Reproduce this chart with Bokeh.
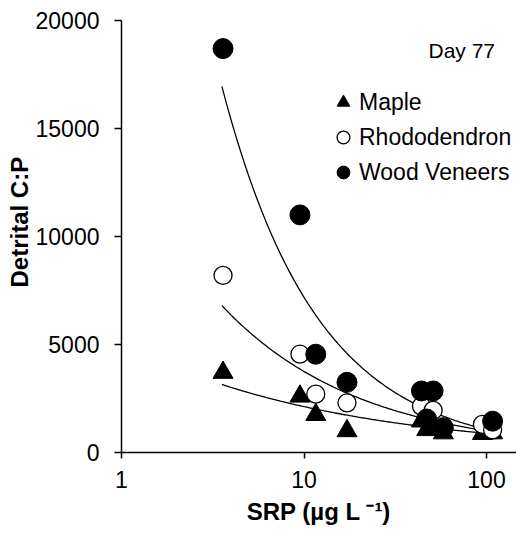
import numpy as np
from bokeh.plotting import figure
from bokeh.models import Label, Legend, LegendItem, FixedTicker, BasicTickFormatter, PrintfTickFormatter, Title
from bokeh.embed import file_html
from bokeh.resources import INLINE

# ---- data ----
maple_srp = [3.6, 9.5, 11.6, 17.2, 44, 47, 58, 95, 108]
maple_cp = [3700, 2600, 1750, 1000, 1450, 1050, 900, 870, 900]

rhodo_srp = [3.6, 9.5, 11.6, 17.2, 44, 51, 58, 95, 108]
rhodo_cp = [8200, 4550, 2700, 2300, 2150, 1950, 1150, 1300, 1050]

wood_srp = [3.6, 9.5, 11.6, 17.2, 44, 51, 47, 58, 108]
wood_cp = [18700, 11000, 4550, 3250, 2850, 2850, 1550, 1150, 1450]

# power-law trend lines  y = a * x^b  (coefficients)
fit_names = ["Maple", "Rhododendron", "Wood Veneers"]
fit_a = [5097, 14070, 48370]
fit_b = [-0.38, -0.574, -0.828]
fit_x_range = [3.55, 105]

y_ticks = [0, 5000, 10000, 15000, 20000]
x_ticks = [1, 10, 100]

FONT = "Liberation Sans"

p = figure(width=516, height=534, x_axis_type="log", x_range=(1, 146), y_range=(0, 20000),
           output_backend="svg", toolbar_location=None,
           min_border_left=121, min_border_right=0, min_border_top=20, min_border_bottom=82)
p.outline_line_color = None
p.xgrid.visible = False
p.ygrid.visible = False
p.background_fill_color = "white"
p.border_fill_color = "white"

# trend lines
xs = np.logspace(np.log10(fit_x_range[0]), np.log10(fit_x_range[1]), 200)
for a, b in zip(fit_a, fit_b):
    p.line(xs, a * xs ** b, line_color="black", line_width=1.3)

r_m = p.scatter(maple_srp, maple_cp, marker="triangle", size=20, fill_color="black", line_color="black")
r_r = p.scatter(rhodo_srp, rhodo_cp, marker="circle", size=18, fill_color="white", line_color="black", line_width=1.3)
r_w = p.scatter(wood_srp, wood_cp, marker="circle", size=20, fill_color="black", line_color="black")

legend = Legend(items=[LegendItem(label=fit_names[0], renderers=[r_m]),
                       LegendItem(label=fit_names[1], renderers=[r_r]),
                       LegendItem(label=fit_names[2], renderers=[r_w])],
                location=(206, 264), glyph_width=32, glyph_height=32, label_standoff=-6,
                spacing=3, padding=0, margin=0, border_line_color=None,
                background_fill_alpha=0, label_text_font=FONT, label_text_font_size="23px",
                label_text_color="black")
p.add_layout(legend)

# axes
for ax in (p.xaxis[0], p.yaxis[0]):
    ax.axis_line_color = "black"
    ax.axis_line_width = 1.5
    ax.major_tick_line_color = "black"
    ax.major_tick_line_width = 1.5
    ax.major_tick_in = 0
    ax.minor_tick_line_color = None
    ax.major_label_text_font = FONT
    ax.major_label_text_font_size = "23px"
    ax.major_label_text_color = "black"

p.yaxis.ticker = FixedTicker(ticks=y_ticks)
p.yaxis.formatter = BasicTickFormatter(use_scientific=False)
p.yaxis.major_tick_out = 7
p.yaxis.major_label_standoff = 15

p.xaxis.ticker = FixedTicker(ticks=x_ticks)
p.xaxis.formatter = PrintfTickFormatter(format="%d")
p.xaxis.major_tick_out = 6
p.xaxis.major_label_standoff = 12
p.xaxis.axis_label = "SRP (µg L ⁻¹)"
p.xaxis.axis_label_text_font = FONT
p.xaxis.axis_label_text_font_style = "bold"
p.xaxis.axis_label_text_font_size = "24px"
p.xaxis.axis_label_text_color = "black"
p.xaxis.axis_label_standoff = 7

p.add_layout(Title(text="Detrital C:P", align="left", offset=165, standoff=0,
                   text_font=FONT, text_font_style="bold", text_font_size="24px",
                   text_color="black"), "left")
p.add_layout(Label(x=307, y=402, x_units="screen", y_units="screen", text="Day 77",
                   text_baseline="alphabetic", text_font=FONT, text_font_size="21px", text_color="black"))

open("out.html", "w").write(file_html(p, INLINE))
